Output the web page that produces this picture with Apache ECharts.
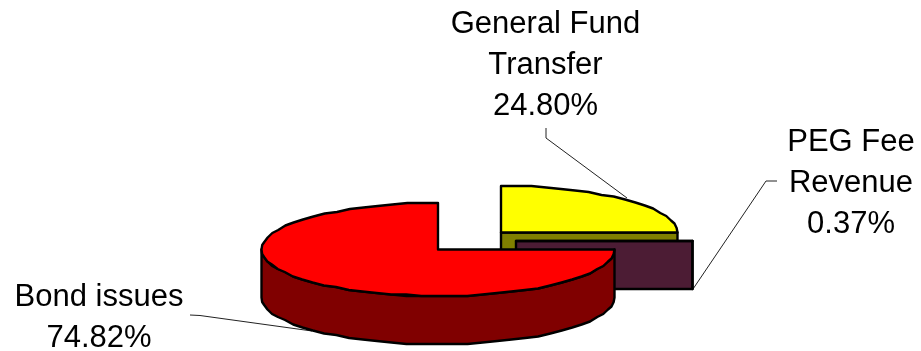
<!DOCTYPE html>
<html><head><meta charset="utf-8">
<style>html,body{margin:0;padding:0;background:#fff}#c{width:921px;height:351px}</style>
<script src="https://cdn.jsdelivr.net/npm/echarts@6/dist/echarts.min.js"></script>
</head><body><div id="c"></div>
<script>
const categories = ['General Fund\nTransfer', 'PEG Fee\nRevenue', 'Bond issues'];
const shares = [24.80, 0.37, 74.82];

const centers = [[501, 232.5], [516, 241], [438, 249.5]];
const topColors = ['#ffff00', '#4c1c34', '#ff0000'];
const sideColors = ['#808000', '#4c1c34', '#800000'];
const RX = 176.5, RY = 46.5, DEPTH = 48;
const labelPos = [[545.5, 3.5], [851, 121.5], [99, 276.5]];
const leaders = [
  [[546, 128], [546, 138], [627, 198]],
  [[777, 181], [766, 181], [693, 289]],
  [[190, 315], [200, 315.5], [312, 331]]
];
const total = shares.reduce((a, b) => a + b, 0);
const ink = '#000';
const GRID = 1.5;

function pt(c, deg, dz) {
  const r = deg * Math.PI / 180;
  const y = Math.round(-RY * Math.cos(r) / GRID) * GRID;
  return [c[0] + RX * Math.sin(r), c[1] + y + (dz || 0)];
}
function arc(c, a, b, dz) {
  const out = [], n = Math.max(1, Math.ceil(Math.abs(b - a) / 5));
  for (let i = 0; i <= n; i++) out.push(pt(c, a + (b - a) * i / n, dz));
  return out;
}
function poly(points, fill) {
  return { type: 'polygon', shape: { points }, style: { fill, stroke: ink, lineWidth: 2.4, lineJoin: 'round' } };
}
function renderSlice(params, api) {
  const i = params.dataIndex, c = centers[i];
  const start = api.value(0) / total * 360, end = api.value(1) / total * 360;
  const kids = [];
  // cut face at the clockwise end of the slice, visible when it faces south
  if (Math.cos((end + 90) * Math.PI / 180) < -0.01) {
    const p = pt(c, end);
    kids.push(poly([c, p, [p[0], p[1] + DEPTH], [c[0], c[1] + DEPTH]], sideColors[i]));
  }
  // rim facing the viewer
  const a = Math.max(start, 90), b = Math.min(end, 270);
  if (b > a) {
    const top = arc(c, a, b, 0), bottom = arc(c, b, a, DEPTH);
    kids.push(poly(top.concat(bottom), sideColors[i]));
  }
  kids.push(poly([c].concat(arc(c, start, end, 0)), topColors[i]));
  return { type: 'group', children: kids };
}
let cum = 0;
const sliceData = shares.map(v => { const d = [cum, cum + v]; cum += v; return d; });

const option = {
  animation: false,
  backgroundColor: '#fff',
  series: [
    { type: 'custom', coordinateSystem: 'none', silent: true, z: 1,
      renderItem: () => ({ type: 'group', children: leaders.map(l => ({
        type: 'polyline', shape: { points: l }, style: { stroke: '#222', lineWidth: 1, fill: 'none' } })) }),
      data: [0] },
    { type: 'custom', coordinateSystem: 'none', silent: true, z: 2,
      renderItem: renderSlice, data: sliceData },
    { type: 'custom', coordinateSystem: 'none', silent: true, z: 3,
      renderItem: (params) => {
        const i = params.dataIndex;
        return { type: 'text', style: {
          text: categories[i] + '\n' + shares[i].toFixed(2) + '%',
          x: labelPos[i][0], y: labelPos[i][1],
          align: 'center', verticalAlign: 'top',
          font: '31px "Liberation Sans", Arial, sans-serif',
          lineHeight: 41, fill: '#000' } };
      },
      data: categories.map((c, i) => [i]) }
  ]
};
const chart = echarts.init(document.getElementById('c'), null, { renderer: 'canvas' });
chart.setOption(option);
</script></body></html>
